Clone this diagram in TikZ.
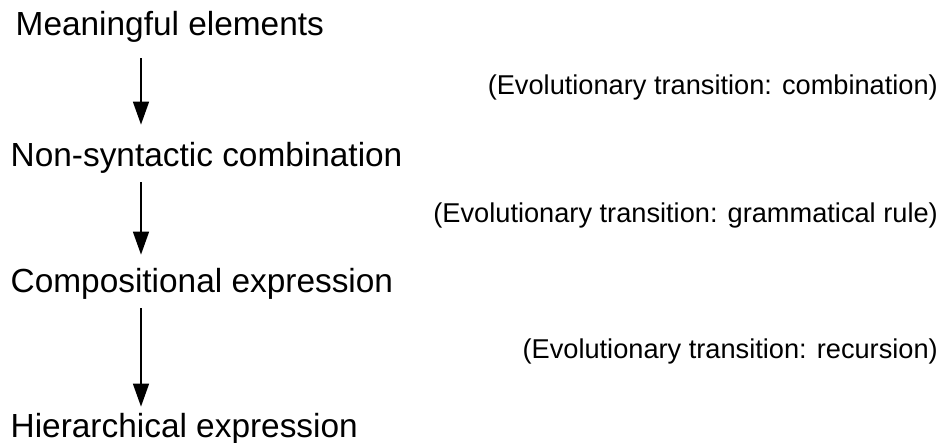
\documentclass[tikz,border=0pt]{standalone}
\usepackage{fontspec}
\setmainfont{Liberation Sans}
\usetikzlibrary{arrows.meta}
\begin{document}
\begin{tikzpicture}[x=1pt,y=-1pt,
  stage/.style={inner sep=0pt,anchor=base west,font=\fontsize{33.4}{36}\selectfont},
  trans/.style={inner sep=0pt,anchor=base east,font=\fontsize{27.2}{30}\selectfont},
  arr/.style={line width=1.6pt,-{Triangle[width=16pt,length=23pt]}}]
\useasboundingbox (0,0) rectangle (949,443);
\node[stage] (m) at (15.5,36) {Meaningful elements};
\node[stage] (n) at (10.5,167) {Non-syntactic combination};
\node[stage] (c) at (10.5,292) {Compositional expression};
\node[stage] (h) at (10.5,437) {Hierarchical expression};
\node[trans] (t1) at (938,95) {(Evolutionary transition: combination)};
\node[trans] (t2) at (938,223) {(Evolutionary transition: grammatical rule)};
\node[trans] (t3) at (938,358) {(Evolutionary transition: recursion)};
\coordinate (ax) at (141,0);
\draw[arr,shorten <=15pt,shorten >=18pt] (m.south -| ax) -- (n.north -| ax);
\draw[arr,shorten <=8pt,shorten >=13pt] (n.south -| ax) -- (c.north -| ax);
\draw[arr,shorten <=9pt,shorten >=6pt] (c.south -| ax) -- (h.north -| ax);
\end{tikzpicture}
\end{document}
